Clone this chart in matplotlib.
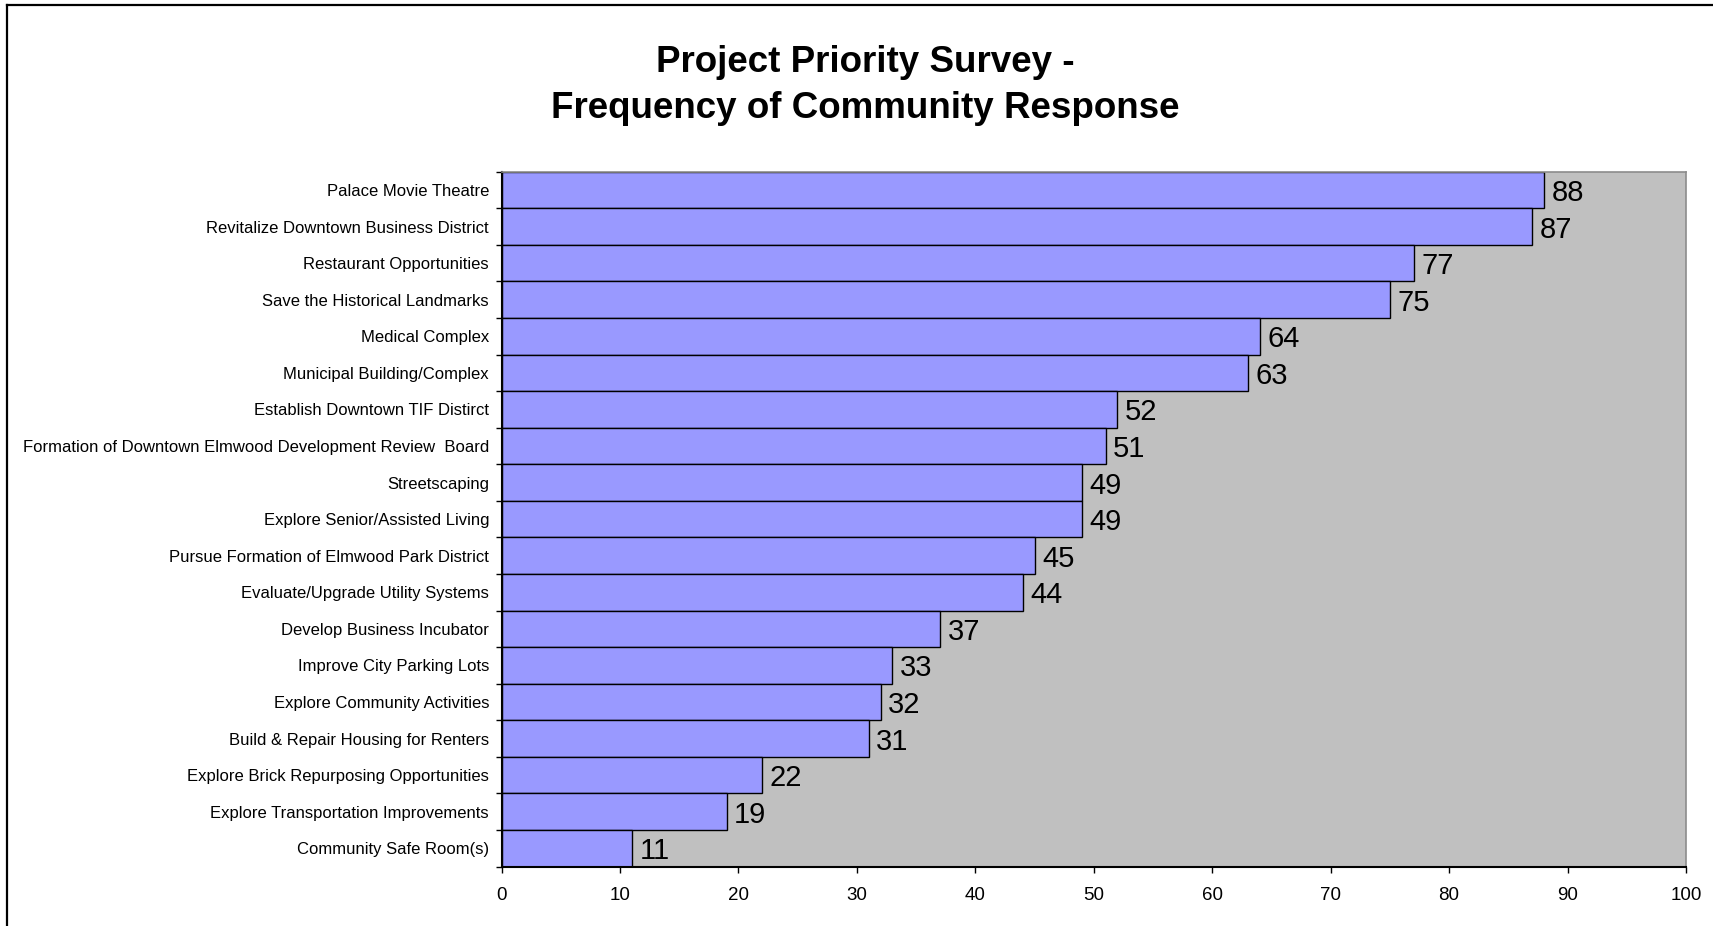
import numpy as np
import matplotlib
matplotlib.use("Agg")
import matplotlib.pyplot as plt
from matplotlib.lines import Line2D

plt.rcParams['font.family'] = ['Liberation Sans', 'DejaVu Sans']

# survey data, top to bottom as shown
projects = [
    "Palace Movie Theatre",
    "Revitalize Downtown Business District",
    "Restaurant Opportunities",
    "Save the Historical Landmarks",
    "Medical Complex",
    "Municipal Building/Complex",
    "Establish Downtown TIF Distirct",
    "Formation of Downtown Elmwood Development Review  Board",
    "Streetscaping",
    "Explore Senior/Assisted Living",
    "Pursue Formation of Elmwood Park District",
    "Evaluate/Upgrade Utility Systems",
    "Develop Business Incubator",
    "Improve City Parking Lots",
    "Explore Community Activities",
    "Build & Repair Housing for Renters",
    "Explore Brick Repurposing Opportunities",
    "Explore Transportation Improvements",
    "Community Safe Room(s)",
]
responses = [88, 87, 77, 75, 64, 63, 52, 51, 49, 49, 45, 44, 37, 33, 32, 31, 22, 19, 11]
x_ticks = list(range(0, 101, 10))

W, H = 1713, 926
fig = plt.figure(figsize=(W / 100, H / 100), dpi=100)
ax = fig.add_axes([501.5 / W, 1 - 866.5 / H, (1686 - 501.5) / W, (866.5 - 171.7) / H])
ax.set_facecolor('#C0C0C0')

pos = np.arange(len(projects))
ax.barh(pos, responses, height=1.0, color='#9999FF', edgecolor='black', linewidth=1.0, zorder=2)

for p, v in zip(pos, responses):
    ax.annotate(str(v), (v, p), xytext=(5.5, 0), textcoords='offset points',
                va='center_baseline', ha='left', fontsize=21, color='black')

ax.set_xlim(0, 100)
ax.set_ylim(len(projects) - 0.5, -0.5)

# y ticks at category boundaries, labels at the middle
ax.set_yticks(np.arange(len(projects) + 1) - 0.5)
ax.set_yticklabels([])
ax.set_yticks(pos, minor=True)
ax.set_yticklabels(projects, minor=True, fontsize=12)
ax.tick_params(axis='y', which='major', length=4, width=1, color='black', direction='out')
ax.tick_params(axis='y', which='minor', length=0, pad=9)

ax.set_xticks(x_ticks)
ax.set_xticklabels([str(t) for t in x_ticks], fontsize=13.5)
ax.tick_params(axis='x', length=4.5, width=1, color='black', direction='out', pad=10)

ax.spines['left'].set_color('black')
ax.spines['bottom'].set_color('black')
ax.spines['left'].set_linewidth(1.5)
ax.spines['bottom'].set_linewidth(1.5)
ax.spines['top'].set_color('#8C8C8C')
ax.spines['right'].set_color('#8C8C8C')
ax.spines['top'].set_linewidth(1.2)
ax.spines['right'].set_linewidth(1.2)

fig.text(865 / W, 1 - 72 / H, "Project Priority Survey -", ha='center', va='baseline',
         fontsize=26.5, fontweight='bold')
fig.text(865 / W, 1 - 118 / H, "Frequency of Community Response", ha='center', va='baseline',
         fontsize=26.5, fontweight='bold')

# chart frame (top and left edges)
fig.add_artist(Line2D([7 / W, 1], [1 - 5 / H, 1 - 5 / H], color='black', linewidth=1.6))
fig.add_artist(Line2D([7 / W, 7 / W], [0, 1 - 5 / H], color='black', linewidth=1.6))

fig.savefig('out.png', dpi=100)
